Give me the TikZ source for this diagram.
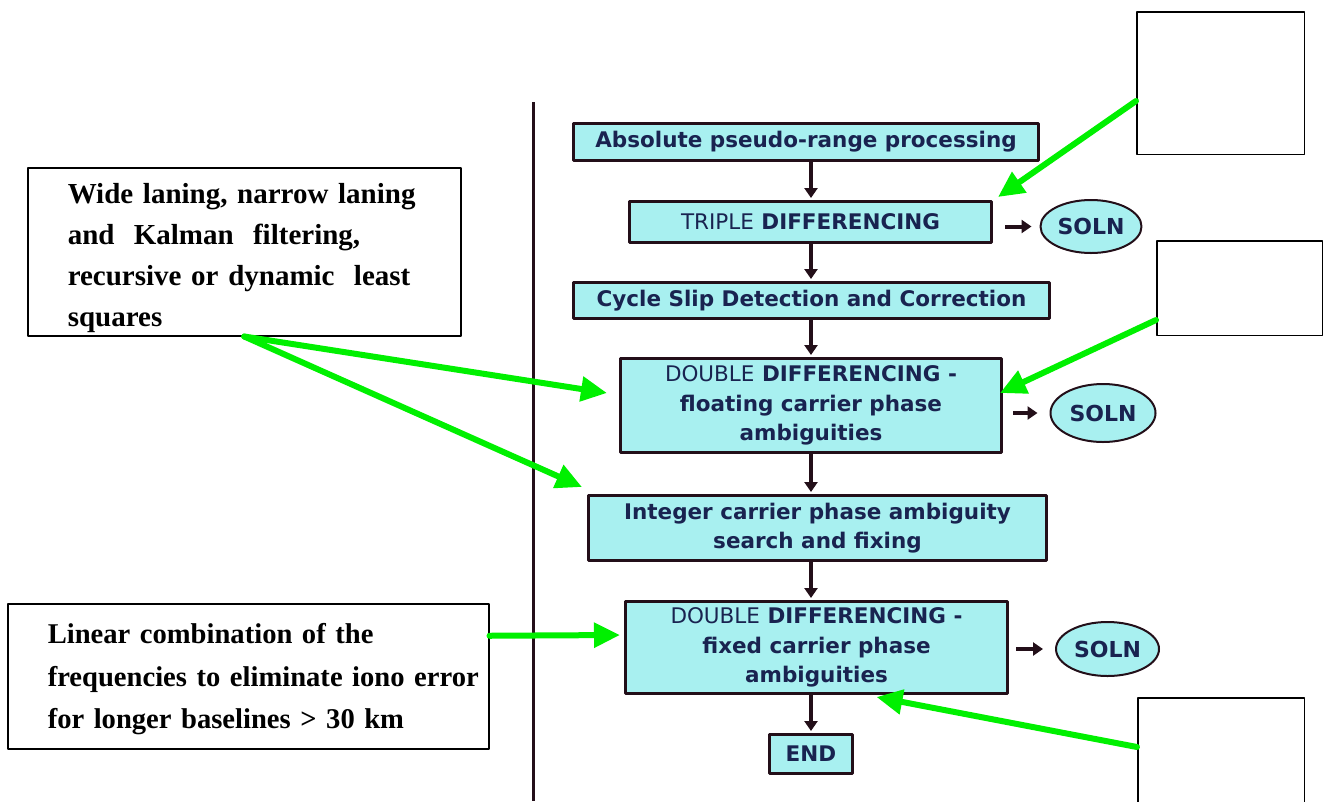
\documentclass[tikz,border=0pt]{standalone}
\usepackage{fontspec}
\setmainfont{Liberation Serif}
\newfontfamily\flowfont{DejaVu Sans}
\usetikzlibrary{arrows.meta,shapes.geometric}
\definecolor{boxcyan}{RGB}{168,240,240}
\definecolor{boxnavy}{RGB}{25,35,80}
\definecolor{boxedge}{RGB}{35,15,25}
\definecolor{hintgreen}{RGB}{0,240,0}
\tikzset{
	flowbox/.style={draw=boxedge,line width=3pt,fill=boxcyan,text=boxnavy,inner sep=0pt,align=center,font=\flowfont\bfseries\fontsize{21.5}{29.5}\selectfont},
	solnbox/.style={ellipse,draw=boxedge,line width=2pt,fill=boxcyan,text=boxnavy,inner sep=0pt,font=\flowfont\bfseries\fontsize{22}{26}\selectfont},
	notebox/.style={draw=black,line width=1.5pt,fill=white,inner sep=0pt},
	textbox/.style={draw=black,line width=1.5pt,fill=white,anchor=north west,align=left,inner xsep=40pt,inner ysep=3pt,font=\bfseries\fontsize{29}{41}\selectfont},
	flow/.style={draw=boxedge,line width=4pt,line cap=butt,-{Triangle[length=10pt,width=13pt]}},
	hint/.style={draw=hintgreen,line width=6pt,-{Triangle[length=26pt,width=24pt]}}
}
\begin{document}
\begin{tikzpicture}[line cap=round,line join=round,x=1pt,y=-1pt]
	\useasboundingbox (0,0) rectangle (1324,801);
	\clip (0,0) rectangle (1324,801);
	\draw [line width=3pt,color=boxedge,line cap=butt] (533,102) -- (533,801);
	\node [flowbox,minimum width=465pt,minimum height=37pt] (abs) at (806,142) {Absolute pseudo-range processing};
	\node [flowbox,minimum width=362pt,minimum height=41pt] (tri) at (810.5,222) {{\mdseries TRIPLE} DIFFERENCING};
	\node [flowbox,minimum width=476pt,minimum height=36pt] (cyc) at (811.5,300.5) {Cycle Slip Detection and Correction};
	\node [flowbox,minimum width=381pt,minimum height=94pt] (dd1) at (811,405.5) {{\mdseries DOUBLE} DIFFERENCING -\\floating carrier phase\\ambiguities};
	\node [flowbox,minimum width=458pt,minimum height=65pt] (int) at (817.5,528) {Integer carrier phase ambiguity\\search and fixing};
	\node [flowbox,minimum width=382pt,minimum height=92pt] (dd2) at (816.5,647.5) {{\mdseries DOUBLE} DIFFERENCING -\\fixed carrier phase\\ambiguities};
	\node [flowbox,minimum width=83pt,minimum height=39pt] (endb) at (811,754) {END};
	\node [solnbox,minimum width=101pt,minimum height=53pt] (soln1) at (1091,226.5) {SOLN};
	\node [solnbox,minimum width=105pt,minimum height=58pt] (soln2) at (1103,413) {SOLN};
	\node [solnbox,minimum width=103pt,minimum height=54pt] (soln3) at (1107.5,649) {SOLN};
	\draw [flow,shorten >=2pt] (abs.south -| endb.north) -- (tri.north -| endb.north);
	\draw [flow,shorten >=2pt] (tri.south -| endb.north) -- (cyc.north -| endb.north);
	\draw [flow,shorten >=2pt] (cyc.south -| endb.north) -- (dd1.north -| endb.north);
	\draw [flow,shorten >=2pt] (dd1.south -| endb.north) -- (int.north -| endb.north);
	\draw [flow,shorten >=2pt] (int.south -| endb.north) -- (dd2.north -| endb.north);
	\draw [flow,shorten >=2pt] (dd2.south -| endb.north) -- (endb.north);
	\draw [flow,shorten <=12pt,shorten >=8pt] (tri.east |- soln1.west) -- (soln1.west);
	\draw [flow,shorten <=10pt,shorten >=12pt] (dd1.east |- soln2.west) -- (soln2.west);
	\draw [flow,shorten <=7pt,shorten >=12pt] (dd2.east |- soln3.west) -- (soln3.west);
	\node [notebox,minimum width=167.5pt,minimum height=142.5pt] (note1) at (1220.5,83) {};
	\node [notebox,minimum width=165.5pt,minimum height=94.5pt] (note2) at (1239.5,288) {};
	\node [notebox,minimum width=166.5pt,minimum height=142.5pt] (note3) at (1221,769) {};
	\node [textbox,text width=353pt,text height=33pt,text depth=129pt] (lane) at (27,167) {Wide laning, narrow laning\\and\ \ Kalman\ \ filtering,\\recursive or dynamic\ \ least\\squares};
	\node [textbox,text width=401pt,text height=37pt,text depth=102pt,font=\bfseries\fontsize{28.6}{42.5}\selectfont] (comb) at (7,603) {Linear combination of the\\\mbox{frequencies to eliminate iono error}\\for longer baselines > 30 km};
	\draw [hint] ([yshift=-18pt]note1.west) -- ([shift={(5pt,3pt)}]tri.north east);
	\draw [hint] ([yshift=-32pt]note2.west) -- ([shift={(-3pt,12.5pt)}]dd1.east);
	\draw [hint] ([yshift=22pt]note3.west) -- ([shift={(60pt,-2pt)}]dd2.south);
	\draw [hint] (lane.south) -- ([shift={(-12pt,12.5pt)}]dd1.west);
	\draw [hint] (lane.south) -- ([shift={(-5pt,7pt)}]int.north west);
	\draw [hint] ([yshift=40.5pt]comb.east) -- ([shift={(-4pt,12.5pt)}]dd2.west);
\end{tikzpicture}
\end{document}
